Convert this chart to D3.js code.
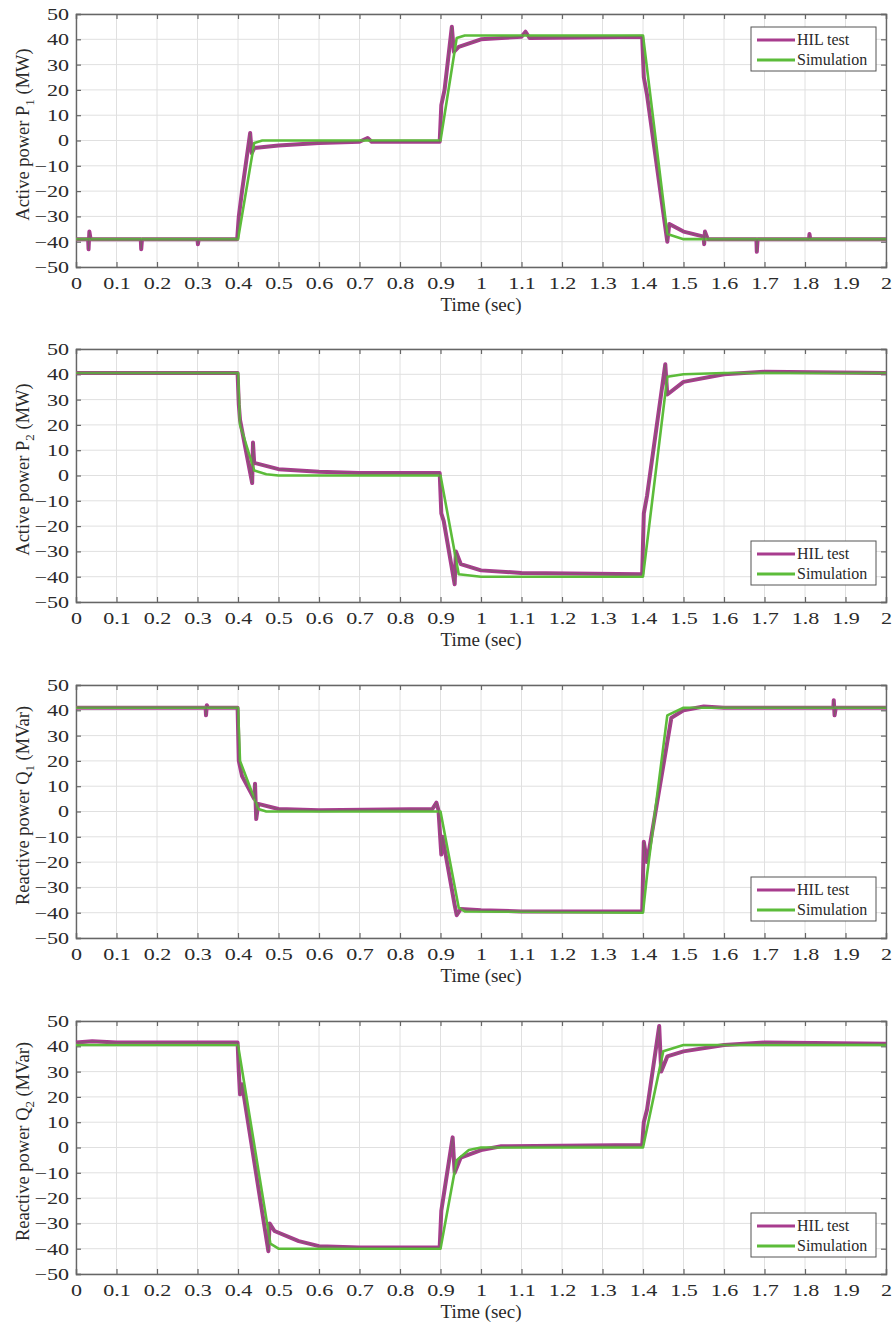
<!DOCTYPE html>
<html>
<head>
<meta charset="utf-8">
<script src="https://cdn.jsdelivr.net/npm/d3@7"></script>
<style>
  body { margin: 0; background: #fff; }
  text { font-family: "Liberation Serif", "Times New Roman", serif; fill: #2a2a2a; }
</style>
</head>
<body>
<div id="chart"></div>
<script>
// Data: [time (s), value]
const xTicks = [0, 0.1, 0.2, 0.3, 0.4, 0.5, 0.6, 0.7, 0.8, 0.9, 1, 1.1, 1.2, 1.3, 1.4, 1.5, 1.6, 1.7, 1.8, 1.9, 2]
const yTicks = [50, 40, 30, 20, 10, 0, -10, -20, -30, -40, -50]

const p1Hil = [[0,-39],[0.03,-39],[0.031,-43],[0.033,-36],[0.036,-39],[0.16,-39],[0.161,-43],[0.163,-39],
  [0.3,-39],[0.301,-41],[0.303,-39],[0.398,-39],[0.402,-30],[0.41,-20],[0.43,3],[0.434,-5],[0.44,-3],
  [0.5,-2],[0.6,-1],[0.7,-0.5],[0.72,1],[0.73,-0.5],[0.898,-0.5],[0.902,14],[0.91,20],[0.928,45],
  [0.933,35],[0.945,37],[1.0,40],[1.1,41],[1.11,43],[1.12,40.5],[1.398,41],[1.402,25],[1.41,18],
  [1.46,-40],[1.465,-33],[1.5,-36],[1.55,-38],[1.551,-41],[1.553,-36],[1.56,-39],[1.68,-39],[1.681,-44],
  [1.683,-39],[1.81,-39],[1.811,-37],[1.813,-39],[2,-39]]
const p1Sim = [[0,-39],[0.4,-39],[0.44,-1],[0.46,0],[0.9,0],[0.94,40.5],[0.96,41.5],[1.4,41.5],
  [1.46,-37],[1.5,-39],[2,-39]]

const p2Hil = [[0,40.5],[0.399,40.5],[0.402,28],[0.405,22],[0.435,-3],[0.437,13],[0.44,5],[0.5,2.5],
  [0.6,1.5],[0.7,1],[0.898,1],[0.902,-15],[0.908,-18],[0.935,-43],[0.938,-30],[0.95,-35],[1.0,-37.5],
  [1.1,-38.5],[1.398,-39],[1.402,-15],[1.41,-8],[1.455,44],[1.46,32],[1.5,37],[1.6,40],[1.7,41],[2,40.5]]
const p2Sim = [[0,40.5],[0.4,40.5],[0.405,20],[0.44,2],[0.47,0.5],[0.5,0],[0.9,0],[0.945,-39],[1.0,-40],
  [1.4,-40],[1.46,39],[1.5,40],[1.6,40.5],[2,40.5]]

const q1Hil = [[0,41],[0.32,41],[0.321,38],[0.323,42],[0.326,41],[0.399,41],[0.402,20],[0.41,14],[0.44,5],
  [0.442,11],[0.445,-3],[0.45,3],[0.5,1],[0.6,0.5],[0.88,1],[0.89,3.5],[0.895,0.5],[0.902,-17],[0.905,-10],
  [0.935,-37],[0.94,-41],[0.95,-38.5],[1.0,-39],[1.1,-39.5],[1.398,-39.5],[1.402,-12],[1.41,-20],
  [1.47,37],[1.5,40],[1.55,41.5],[1.6,41],[1.87,41],[1.871,44],[1.873,38],[1.876,41],[2,41]]
const q1Sim = [[0,41],[0.4,41],[0.405,20],[0.45,1],[0.47,0],[0.9,0],[0.945,-38],[0.96,-39.5],[1.4,-40],
  [1.41,-25],[1.46,38],[1.5,41],[2,41]]

const q2Hil = [[0,41.5],[0.04,42],[0.1,41.5],[0.399,41.5],[0.402,30],[0.405,21],[0.41,25],[0.475,-41],
  [0.478,-30],[0.49,-33],[0.55,-37],[0.6,-39],[0.7,-39.5],[0.898,-39.5],[0.902,-25],[0.93,4],[0.935,-10],
  [0.95,-4],[1.0,-1],[1.05,0.5],[1.398,1],[1.402,10],[1.41,15],[1.44,48],[1.445,30],[1.46,36],[1.5,38],
  [1.6,40.5],[1.7,41.5],[2,41]]
const q2Sim = [[0,40.5],[0.4,40.5],[0.48,-38],[0.5,-40],[0.9,-40],[0.94,-5],[0.97,-1],[1.0,0],[1.4,0],
  [1.45,38],[1.5,40.5],[2,40.5]]

const panels = [
  {top: 14, hil: p1Hil, sim: p1Sim, label: ['Active power P', '1', ' (MW)'], legend: 'top'},
  {top: 349, hil: p2Hil, sim: p2Sim, label: ['Active power P', '2', ' (MW)'], legend: 'bottom'},
  {top: 685, hil: q1Hil, sim: q1Sim, label: ['Reactive power Q', '1', ' (MVar)'], legend: 'bottom'},
  {top: 1021, hil: q2Hil, sim: q2Sim, label: ['Reactive power Q', '2', ' (MVar)'], legend: 'bottom'}
]

const dims = { width: 896, height: 1326, left: 76, plotW: 810, plotH: 253 }
const hilColour = '#a83c8e'
const simColour = '#5cbc3a'
const stretch = 1.3 // tick labels in the figure are wide

const svg = d3.select('#chart')
  .append('svg')
    .attr('width', dims.width)
    .attr('height', dims.height)

const x = d3.scaleLinear().domain([0, 2]).range([0, dims.plotW])
const y = d3.scaleLinear().domain([-50, 50]).range([dims.plotH, 0])

const line = d3.line()
  .x(d => x(d[0]))
  .y(d => y(d[1]))

panels.forEach(p => {
  const g = svg.append('g')
    .attr('transform', `translate(${dims.left}, ${p.top})`)

  // grid
  g.append('g').selectAll('line')
    .data(xTicks)
    .join('line')
    .attr('x1', d => x(d)).attr('x2', d => x(d))
    .attr('y1', 0).attr('y2', dims.plotH)
    .attr('stroke', '#e0e0e0')
  g.append('g').selectAll('line')
    .data(yTicks)
    .join('line')
    .attr('y1', d => y(d)).attr('y2', d => y(d))
    .attr('x1', 0).attr('x2', dims.plotW)
    .attr('stroke', '#e0e0e0')

  // axes with inward ticks on all sides
  const fmt = d => d3.format('~g')(d)
  const bottom = g.append('g')
    .attr('transform', `translate(0, ${dims.plotH})`)
    .call(d3.axisBottom(x).tickValues(xTicks).tickSize(-5).tickPadding(10).tickFormat(fmt))
  const top = g.append('g')
    .call(d3.axisTop(x).tickValues(xTicks).tickSize(-5).tickFormat(''))
  const left = g.append('g')
    .call(d3.axisLeft(y).tickValues(yTicks).tickSize(-5).tickPadding(7).tickFormat(fmt))
  const right = g.append('g')
    .attr('transform', `translate(${dims.plotW}, 0)`)
    .call(d3.axisRight(y).tickValues(yTicks).tickSize(-5).tickFormat(''))

  ;[bottom, top, left, right].forEach(a => {
    a.select('.domain').attr('stroke', '#666').attr('stroke-width', 1.4)
    a.selectAll('.tick line').attr('stroke', '#666').attr('stroke-width', 1.2)
    a.selectAll('text')
      .attr('font-size', 17)
      .attr('transform', `scale(${stretch}, 1)`)
  })
  left.selectAll('text').attr('x', -7 / stretch)

  // series
  g.append('path')
    .datum(p.hil)
    .attr('d', line)
    .attr('fill', 'none')
    .attr('stroke', hilColour)
    .attr('stroke-width', 4)
    .attr('stroke-linejoin', 'round')
  g.append('path')
    .datum(p.sim)
    .attr('d', line)
    .attr('fill', 'none')
    .attr('stroke', simColour)
    .attr('stroke-width', 2.6)
    .attr('stroke-linejoin', 'round')
  // thin dark core where the two traces overlap in the original
  g.append('path')
    .datum(p.hil)
    .attr('d', line)
    .attr('fill', 'none')
    .attr('stroke', '#6f6a60')
    .attr('stroke-width', 1)
    .attr('stroke-opacity', 0.7)

  // x label
  g.append('text')
    .attr('x', dims.plotW / 2)
    .attr('y', dims.plotH + 44)
    .attr('text-anchor', 'middle')
    .attr('font-size', 19)
    .text('Time (sec)')

  // y label with subscript
  const yl = g.append('text')
    .attr('transform', `translate(-47, ${dims.plotH / 2 - 6}) rotate(-90)`)
    .attr('text-anchor', 'middle')
    .attr('font-size', 18.5)
  yl.append('tspan').text(p.label[0])
  yl.append('tspan').attr('font-size', 13).attr('dy', 5).text(p.label[1])
  yl.append('tspan').attr('dy', -5).text(p.label[2])

  // legend
  const lx = 675, ly = p.legend === 'top' ? 13 : dims.plotH - 61
  const lg = g.append('g').attr('transform', `translate(${lx}, ${ly})`)
  lg.append('rect')
    .attr('width', 125).attr('height', 44)
    .attr('fill', '#fff')
    .attr('stroke', '#555')
  ;[['HIL test', hilColour], ['Simulation', simColour]].forEach((d, i) => {
    lg.append('line')
      .attr('x1', 6).attr('x2', 44)
      .attr('y1', 13 + i * 20).attr('y2', 13 + i * 20)
      .attr('stroke', d[1])
      .attr('stroke-width', 3)
    lg.append('text')
      .attr('x', 46).attr('y', 18 + i * 20)
      .attr('font-size', 16)
      .attr('fill', '#222')
      .text(d[0])
  })
})
</script>
</body>
</html>
